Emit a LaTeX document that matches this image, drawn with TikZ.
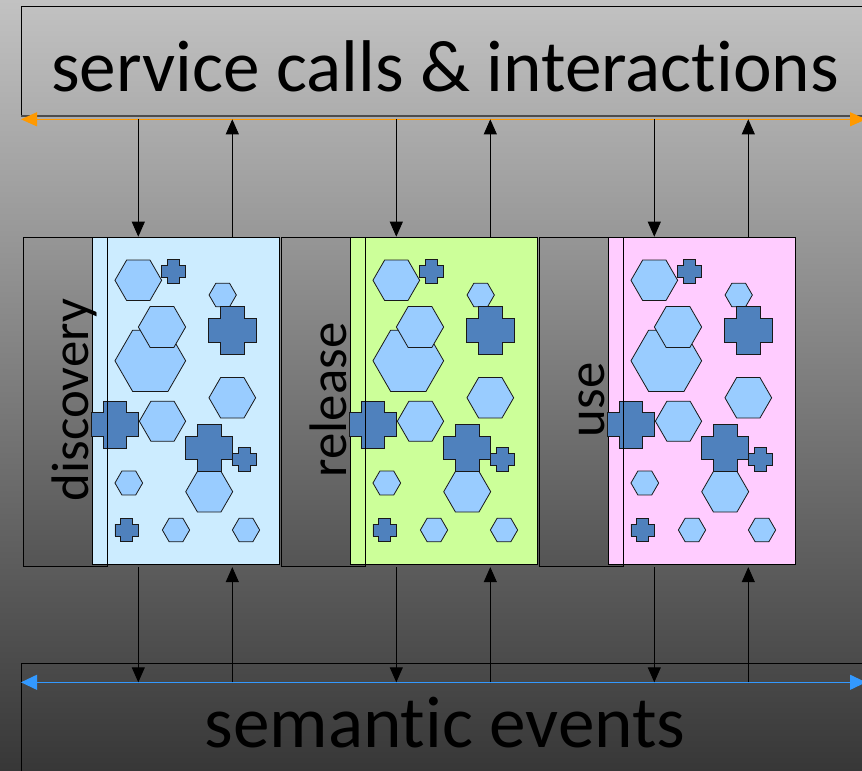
\documentclass[tikz,border=0pt]{standalone}
\usepackage{fontspec}
\setmainfont{Carlito}[Ligatures={NoCommon}]
\usetikzlibrary{arrows.meta}

\definecolor{panelblue}{HTML}{CCECFF}
\definecolor{panelgreen}{HTML}{CCFF99}
\definecolor{panelpink}{HTML}{FFCCFF}
\definecolor{hexfill}{HTML}{99CCFF}
\definecolor{crossfill}{HTML}{4F81BD}
\definecolor{flowor}{HTML}{FF9900}
\definecolor{flowbl}{HTML}{3399FF}
\definecolor{bgtop}{RGB}{194,194,194}
\definecolor{bgbot}{RGB}{55,55,55}
\definecolor{boxtop}{RGB}{150,150,150}
\definecolor{boxbot}{RGB}{84,84,84}

\tikzset{
  hexcell/.style={fill=hexfill, draw=black!90, line width=0.8bp, line join=miter},
  crosscell/.style={fill=crossfill, draw=black!90, line width=0.8bp},
  flow/.style={draw=black, line width=0.9bp, -{Triangle[length=15bp,width=13bp]}},
  labelbox/.style={draw=black, line width=0.9bp, top color=boxtop, bottom color=boxbot,
    minimum width=84bp, minimum height=329.5bp, inner sep=0pt, anchor=north west},
  labelframe/.style={draw=black, line width=0.9bp, minimum width=84bp,
    minimum height=329.5bp, inner sep=0pt, anchor=north west},
  cellbox/.style={draw=black, line width=0.9bp, minimum width=187.6bp,
    minimum height=327.6bp, inner sep=0pt, anchor=north west},
  phase/.style={rotate=90, anchor=base, font=\fontsize{53}{60}\selectfont},
  title/.style={anchor=base, font=\fontsize{73.5}{80}\selectfont},
}

% hexagon: centre x, centre y, radius
\newcommand\hexcell[3]{\draw[hexcell] (#1,#2) +(0:#3) -- +(60:#3) -- +(120:#3)
  -- +(180:#3) -- +(240:#3) -- +(300:#3) -- cycle;}
% cross: centre x, centre y, overall size
\newcommand\crosscell[3]{\pgfmathsetmacro\crA{#3/4}\pgfmathsetmacro\crH{#3/2}%
  \draw[crosscell] (#1,#2) +(-\crA,-\crH) -- +(\crA,-\crH) -- +(\crA,-\crA)
  -- +(\crH,-\crA) -- +(\crH,\crA) -- +(\crA,\crA) -- +(\crA,\crH)
  -- +(-\crA,\crH) -- +(-\crA,\crA) -- +(-\crH,\crA) -- +(-\crH,-\crA)
  -- +(-\crA,-\crA) -- cycle;}

% one phase column: left x, fill colour, label, name suffix
\newcommand\phasecol[4]{%
  \node[labelbox] (gray#4) at (#1,236.7) {};
  \node[cellbox, fill=#2] (cell#4) at (#1+68.4,236.7) {};
  \begin{scope}[shift={(#1+68.4,236.7)}]
    \hexcell{46.6}{43.6}{23.35}
    \crosscell{82}{35}{24}
    \hexcell{131}{58.3}{13.65}
    \crosscell{140.5}{93.6}{47.5}
    \hexcell{58.6}{124.1}{35.35}
    \hexcell{70.3}{90.3}{23.65}
    \hexcell{140.6}{161.1}{23.35}
    \crosscell{23.3}{187.8}{47}
    \hexcell{70.8}{184.5}{23.15}
    \hexcell{117.5}{255}{23.5}
    \crosscell{117.5}{211.3}{47}
    \crosscell{153}{223}{24}
    \hexcell{37.1}{246.3}{13.85}
    \crosscell{35.1}{293.3}{23.7}
    \hexcell{84.3}{293.3}{13.65}
    \hexcell{154.3}{293.3}{13.65}
  \end{scope}
  \node[labelframe] (frame#4) at (#1,236.7) {};
  \node[phase] (label#4) at (#1+65,400) {#3};
  % connectors to the service layer and the event layer
  \coordinate (sd#4) at (#1+115,119.3);
  \coordinate (su#4) at (#1+209,119.3);
  \coordinate (ed#4) at (#1+115,682.3);
  \coordinate (eu#4) at (#1+209,682.3);
  \draw[flow] (sd#4) -- (sd#4 |- cell#4.north);
  \draw[flow] (su#4 |- cell#4.north) -- (su#4);
  \draw[flow] (ed#4 |- gray#4.south) -- (ed#4);
  \draw[flow] (eu#4) -- (eu#4 |- gray#4.south);
}

\begin{document}
\begin{tikzpicture}[x=1bp, y=-1bp]
  \useasboundingbox (0,0) rectangle (862,771);
  \clip (0,0) rectangle (862,771);
  \shade[top color=bgtop, bottom color=bgbot] (0,0) rectangle (862,771);

  % service layer
  \draw[black, line width=0.9bp] (900,6) -- (21,6) -- (21,115.7);
  \draw[black!70, line width=1.8bp] (21,115.7) -- (900,115.7);
  \node[title] (svc) at (445,91.7) {service calls \& interactions};
  \coordinate (svcL) at (21,119.3);
  \coordinate (svcR) at (866,119.3);
  \draw[flowor, line width=1.1bp, {Triangle[length=16bp,width=14bp]}-{Triangle[length=16bp,width=14bp]}] (svcL) -- (svcR);

  % event layer
  \draw[black, line width=0.9bp] (900,663.3) -- (21,663.3) -- (21,800);
  \node[title] (evt) at (445,747) {semantic events};
  \coordinate (evtL) at (21,682.3);
  \coordinate (evtR) at (866,682.3);
  \draw[flowbl, line width=1.1bp, {Triangle[length=16bp,width=15bp]}-{Triangle[length=16bp,width=15bp]}] (evtL) -- (evtR);

  % the three phases
  \phasecol{23.3}{panelblue}{discovery}{A}
  \phasecol{281.3}{panelgreen}{release}{B}
  \phasecol{539.3}{panelpink}{use}{C}
\end{tikzpicture}
\end{document}
